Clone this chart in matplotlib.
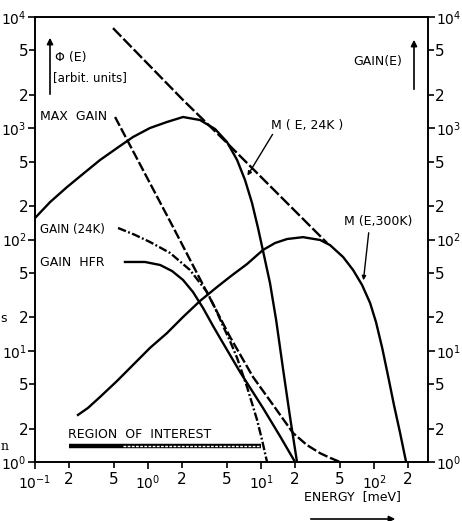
import matplotlib
matplotlib.use('Agg')
import matplotlib.pyplot as plt

# DATA (energy in meV, values in arbitrary units)

# straight long-dashed envelope touching both Maxwellians
env_E = [0.49, 2.04, 5.0, 38.4]
env_Y = [7940, 1795, 737, 93]

# M(E,24K)
m24_E = [0.1, 0.136, 0.192, 0.272, 0.376, 0.532, 0.736, 1.04, 1.47, 2.04, 2.88, 3.92,
         5.0, 6.14, 7.21, 8.32, 9.40, 10.6, 12.0, 13.6, 15.7, 18.1, 20.8]
m24_Y = [156, 217, 296, 396, 518, 664, 834, 1005, 1138, 1262, 1186, 984,
         752, 518, 343, 213, 127, 72.6, 40.6, 18.9, 6.71, 2.49, 1.0]

# M(E,300K)
m300_E = [0.24, 0.294, 0.376, 0.532, 0.736, 1.04, 1.47, 2.04, 2.88, 4.08, 5.43, 7.52,
          10.4, 13.3, 17.0, 23.5, 33.3, 40.8, 53.2, 65.2, 78.3, 92.2, 104, 118, 133,
          150, 170, 192]
m300_Y = [2.65, 3.06, 3.84, 5.35, 7.45, 10.6, 14.4, 20.1, 28.0, 37.4, 47.0, 60.2,
          80.5, 93, 101, 105, 99, 89, 69.6, 53.2, 39.0, 26.9, 18.1, 10.6, 5.93,
          3.25, 1.82, 1.0]

# MAX GAIN
maxg_E = [0.511, 1.63, 5.32, 8.49, 12.8, 19.2, 25.5, 33.3, 40.8, 50.0]
maxg_Y = [1262, 135, 13.3, 5.81, 3.25, 1.82, 1.42, 1.20, 1.09, 1.0]

# GAIN (24K)
g24_E = [0.543, 0.767, 1.04, 1.57, 2.35, 3.33, 3.92, 4.61, 5.32, 6.14, 7.52, 9.22, 10.2, 11.3]
g24_Y = [127, 110, 95, 75.6, 53.2, 33.7, 24.2, 16.7, 12.2, 8.61, 4.72, 2.39, 1.58, 1.0]

# GAIN HFR
hfr_E = [0.625, 0.94, 1.28, 1.63, 2.04, 2.50, 3.07, 3.76, 4.34, 6.52, 10.4, 14.7, 20.0]
hfr_Y = [62.8, 62.8, 59.0, 52.1, 43.3, 33.7, 24.2, 16.7, 13.0, 6.44, 3.06, 1.71, 1.0]

# region of interest
roi_E = [0.2, 10]
roi_hatch_E = [0.6, 9.8]
roi_Y = 1.4

# ticks
x_major = [0.1, 1, 10, 100]
x_major_lab = ['$10^{-1}$', '$10^{0}$', '$10^{1}$', '$10^{2}$']
x_minor = [0.2, 0.5, 2, 5, 20, 50, 200]
x_minor_lab = ['2', '5', '2', '5', '2', '5', '2']
y_major = [1, 10, 100, 1000, 10000]
y_major_lab = ['$10^{0}$', '$10^{1}$', '$10^{2}$', '$10^{3}$', '$10^{4}$']
y_minor = [2, 5, 20, 50, 200, 500, 2000, 5000]
y_minor_lab = ['2', '5'] * 4

W, H = 462, 521


def fx(x):
    return x / W


def fy(y):
    return 1 - y / H


fig = plt.figure(figsize=(W / 100, H / 100), dpi=100)
ax = fig.add_axes([fx(35), fy(462), fx(428) - fx(35), fy(17) - fy(462)])
ax.set_xscale('log')
ax.set_yscale('log')
ax.set_xlim(0.1, 300)
ax.set_ylim(1, 1e4)

lw = 1.7
ax.plot(env_E, env_Y, color='black', lw=lw, dashes=(5, 1.3))
ax.plot(m24_E, m24_Y, color='black', lw=lw)
ax.plot(m300_E, m300_Y, color='black', lw=lw)
ax.plot(maxg_E, maxg_Y, color='black', lw=lw, dashes=(4.2, 1.2))
ax.plot(g24_E, g24_Y, color='black', lw=lw, dashes=(3.6, 1.0, 0.8, 1.0))
ax.plot(hfr_E, hfr_Y, color='black', lw=lw)

ax.plot(roi_E, [roi_Y, roi_Y], color='black', lw=3.2, solid_capstyle='butt')
ax.plot(roi_hatch_E, [roi_Y, roi_Y], color='white', lw=1.0, dashes=(2, 1))

for side in ['left', 'right', 'top', 'bottom']:
    ax.spines[side].set_linewidth(1.4)

ax.set_xticks(x_major, x_major_lab)
ax.set_xticks(x_minor, x_minor_lab, minor=True)
ax.set_yticks(y_major, y_major_lab)
ax.set_yticks(y_minor, y_minor_lab, minor=True)
ax.tick_params(axis='both', which='both', direction='out', width=1.2, colors='black')
ax.tick_params(axis='both', which='major', length=5, labelsize=10)
ax.tick_params(axis='both', which='minor', length=4, labelsize=11)
ax.tick_params(axis='y', which='both', left=True, right=True, labelleft=True, labelright=True, pad=1)
ax.tick_params(axis='x', which='both', top=False, pad=3)

# labels
fs = 9
fig.text(fx(55), fy(58), 'Φ (E)', fontsize=fs, va='center', ha='left')
fig.text(fx(53), fy(78), '[arbit. units]', fontsize=fs - 0.5, va='center', ha='left')
fig.text(fx(40), fy(117), 'MAX  GAIN', fontsize=fs, va='center', ha='left')
fig.text(fx(40), fy(229), 'GAIN (24K)', fontsize=fs - 0.5, va='center', ha='left')
fig.text(fx(40), fy(263), 'GAIN  HFR', fontsize=fs, va='center', ha='left')
fig.text(fx(68), fy(435), 'REGION  OF  INTEREST', fontsize=fs, va='center', ha='left')
fig.text(fx(271), fy(125), 'M ( E, 24K )', fontsize=fs, va='center', ha='left')
fig.text(fx(344), fy(221), 'M (E,300K)', fontsize=fs, va='center', ha='left')
fig.text(fx(353), fy(61), 'GAIN(E)', fontsize=fs, va='center', ha='left')
fig.text(fx(304), fy(497), 'ENERGY  [meV]', fontsize=fs, va='center', ha='left')

# cut-off letters from the neighbouring column
fig.text(fx(0.5), fy(318), 's', fontsize=fs, va='center', ha='left')
fig.text(fx(0.5), fy(446), 'n', fontsize=fs, va='center', ha='left', family='DejaVu Serif')

arrow = dict(arrowstyle='-|>', color='black', lw=1.2, mutation_scale=9)
ax.annotate('', xy=(fx(50), fy(35)), xytext=(fx(50), fy(97)),
            xycoords='figure fraction', textcoords='figure fraction', arrowprops=arrow)
ax.annotate('', xy=(fx(414), fy(37)), xytext=(fx(414), fy(92)),
            xycoords='figure fraction', textcoords='figure fraction', arrowprops=arrow)
ax.annotate('', xy=(fx(398), fy(519)), xytext=(fx(308), fy(519)),
            xycoords='figure fraction', textcoords='figure fraction', arrowprops=arrow,
            annotation_clip=False)

leader = dict(arrowstyle='-|>', color='black', lw=1.0, mutation_scale=6)
ax.annotate('', xy=(7.36, 357), xytext=(fx(274), fy(132)),
            xycoords='data', textcoords='figure fraction', arrowprops=leader)
ax.annotate('', xy=(80, 40.6), xytext=(fx(369), fy(230)),
            xycoords='data', textcoords='figure fraction', arrowprops=leader)

fig.savefig('out.png', dpi=100)
